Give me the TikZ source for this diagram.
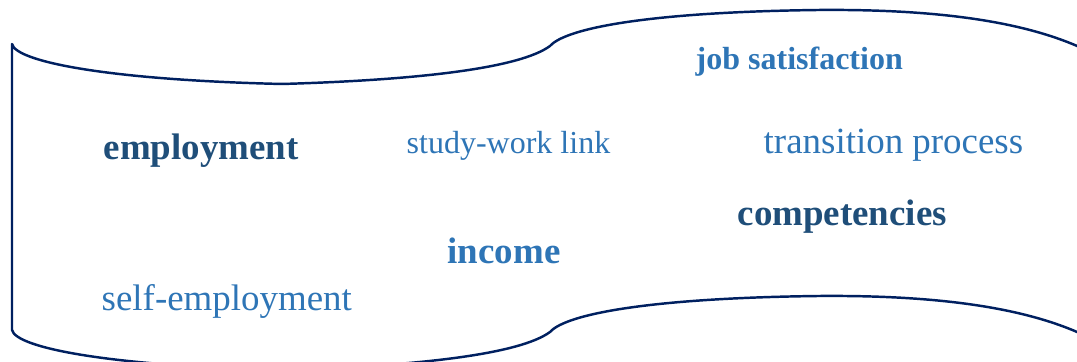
\documentclass[tikz,border=0pt]{standalone}
\usepackage{fontspec}
\setmainfont{Liberation Serif}
\usepackage{tikz}
\usetikzlibrary{arrows.meta}

\definecolor{wordDark}{HTML}{1F4E79}
\definecolor{wordLight}{HTML}{2E75B6}
\definecolor{waveLine}{RGB}{0,32,96}

\begin{document}
\begin{tikzpicture}[x=0.01cm, y=-0.01cm,
  word/.style={inner sep=0pt, anchor=base west},
  big/.style={font=\fontsize{10.5}{12}\selectfont},
  small/.style={font=\fontsize{9.1}{11}\selectfont},
  wave/.style={draw=waveLine, line width=0.7pt, line join=round}]
\useasboundingbox (0,0) rectangle (1077,362);
\clip (0,0) rectangle (1077,362);
% banner outline
\draw[wave] (12,44) .. controls (16,62) and (110,80) .. (282,84)
  .. controls (420,80) and (520,68) .. (550,46)
  .. controls (566,28) and (650,12) .. (819,10)
  .. controls (940,9) and (1030,22) .. (1090,52)
  -- (1090,338)
  .. controls (1030,308) and (940,295) .. (819,296)
  .. controls (650,298) and (566,314) .. (550,332)
  .. controls (520,354) and (420,366) .. (282,370)
  .. controls (110,366) and (16,348) .. (12,330) -- cycle;
% words
\path (695,69.5) node (jobsat) [word, small, wordLight] {\bfseries job satisfaction};
\path (103,159.3) node (employment) [word, big, wordDark] {\bfseries employment};
\path (406,153.5) node (studywork) [word, small, wordLight] {study-work link};
\path (763,153.3) node (transition) [word, big, wordLight] {transition process};
\path (737,225.5) node (competencies) [word, big, wordDark] {\bfseries competencies};
\path (447,263.3) node (income) [word, big, wordLight] {\bfseries income};
\path (101,310.7) node (selfemp) [word, big, wordLight] {self-employment};
\end{tikzpicture}
\end{document}
